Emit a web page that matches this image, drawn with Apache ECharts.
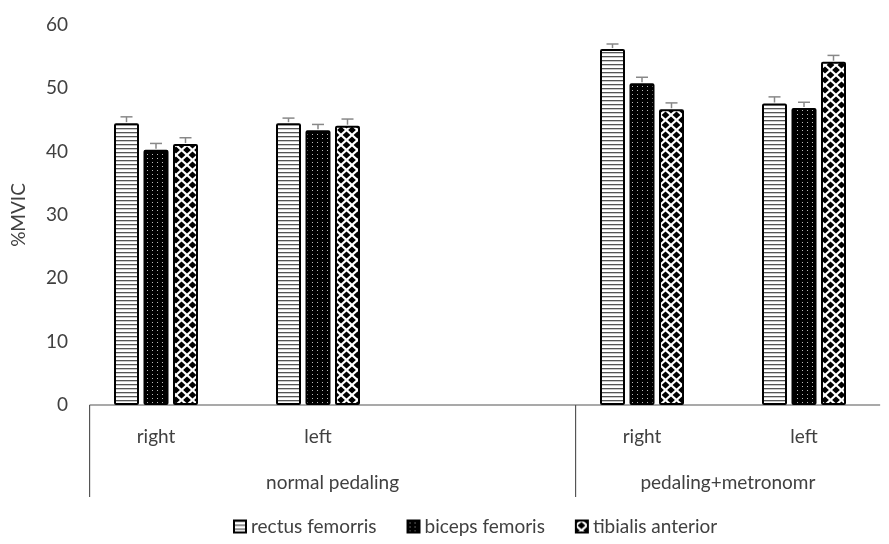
<!DOCTYPE html>
<html>
<head>
<meta charset="utf-8">
<script src="https://cdn.jsdelivr.net/npm/echarts@6/dist/echarts.min.js"></script>
<style>
  html, body { margin: 0; padding: 0; background: #fff; }
  #main { width: 889px; height: 544px; }
</style>
</head>
<body>
<div id="main"></div>
<script>
// 数据
const categories = ['right', 'left', '', 'right', 'left']
const groups = ['normal pedaling', 'pedaling+metronomr']
const seriesNames = ['rectus femorris', 'biceps femoris', 'tibialis anterior']
const rectus = [44.5, 44.5, null, 56.2, 47.6]
const biceps = [40.3, 43.4, null, 50.8, 46.9]
const tibialis = [41.2, 44.1, null, 46.7, 54.2]
const rectusErr = [1.0, 0.8, null, 0.8, 1.05]
const bicepsErr = [1.0, 0.9, null, 0.95, 0.9]
const tibialisErr = [1.0, 1.05, null, 1.0, 1.0]
const yTicks = [0, 10, 20, 30, 40, 50, 60]

const FONT = 'Lato, "Open Sans", sans-serif'
const TXT = '#404040'
const FS = 19
const BAR_W = 25
const BAR_GAP = 4.5

// 填充图案
function makeCanvas (w, h, draw) {
  const c = document.createElement('canvas')
  c.width = w
  c.height = h
  const ctx = c.getContext('2d')
  draw(ctx)
  return { image: c, repeat: 'repeat' }
}
const hLines = makeCanvas(8, 4, ctx => {
  ctx.fillStyle = '#fff'
  ctx.fillRect(0, 0, 8, 4)
  ctx.fillStyle = '#555'
  ctx.fillRect(0, 0, 8, 1.3)
})
const dots = makeCanvas(5, 4, ctx => {
  ctx.fillStyle = '#000'
  ctx.fillRect(0, 0, 5, 4)
  ctx.fillStyle = '#bbb'
  ctx.fillRect(2, 2, 1, 1)
})
const diamonds = makeCanvas(11, 10, ctx => {
  ctx.fillStyle = '#fff'
  ctx.fillRect(0, 0, 11, 10)
  ctx.fillStyle = '#000'
  const d = (x, y) => {
    ctx.beginPath()
    ctx.moveTo(x, y - 3.6)
    ctx.lineTo(x + 3.9, y)
    ctx.lineTo(x, y + 3.6)
    ctx.lineTo(x - 3.9, y)
    ctx.closePath()
    ctx.fill()
  }
  d(5.5, 5); d(0, 0); d(11, 0); d(0, 10); d(11, 10)
})
const fills = [hLines, dots, diamonds]
const values = [rectus, biceps, tibialis]
const errors = [rectusErr, bicepsErr, tibialisErr]

const series = []
values.forEach((v, i) => {
  series.push({
    name: seriesNames[i],
    type: 'bar',
    barWidth: BAR_W,
    barGap: (BAR_GAP / BAR_W * 100) + '%',
    itemStyle: {
      color: fills[i],
      borderColor: '#000',
      borderWidth: 2,
      borderRadius: 1
    },
    data: v
  })
})
// 误差线
errors.forEach((e, i) => {
  const data = []
  values[i].forEach((v, k) => {
    if (v != null) data.push([k, v, e[k]])
  })
  series.push({
    name: 'err' + i,
    type: 'custom',
    z: 3,
    silent: true,
    renderItem (params, api) {
      const x = api.value(0)
      const v = api.value(1)
      const err = api.value(2)
      const off = (i - 1) * (BAR_W + BAR_GAP)
      const p0 = api.coord([x, v])
      const p1 = api.coord([x, v + err])
      const cx = p0[0] + off
      const st = { stroke: '#888', lineWidth: 1.5 }
      return {
        type: 'group',
        children: [
          { type: 'line', shape: { x1: cx, y1: p0[1] - 1, x2: cx, y2: p1[1] }, style: st },
          { type: 'line', shape: { x1: cx - 6, y1: p1[1], x2: cx + 6, y2: p1[1] }, style: st }
        ]
      }
    },
    data
  })
})

const chart = echarts.init(document.getElementById('main'), null, { renderer: 'canvas' })
const option = {
  animation: false,
  textStyle: { fontFamily: FONT },
  grid: {
    left: 75,
    right: 4,
    top: 25,
    bottom: 139
  },
  legend: {
    data: seriesNames,
    left: 228,
    top: 512,
    icon: 'rect',
    itemWidth: 12,
    itemHeight: 12,
    itemGap: 30,
    textStyle: { color: TXT, fontSize: FS, fontFamily: FONT }
  },
  xAxis: {
    type: 'category',
    data: categories,
    axisLine: { show: false },
    axisTick: { show: false },
    axisLabel: {
      margin: 22,
      color: TXT,
      fontSize: FS,
      fontFamily: FONT,
      interval: 0
    }
  },
  yAxis: {
    type: 'value',
    min: yTicks[0],
    max: yTicks[yTicks.length - 1],
    interval: 10,
    name: '%MVIC',
    nameLocation: 'middle',
    nameRotate: 90,
    nameGap: 47,
    nameTextStyle: { color: TXT, fontSize: FS, fontFamily: FONT },
    splitLine: { show: false },
    axisLine: { show: false },
    axisTick: { show: false },
    axisLabel: {
      margin: 7,
      color: TXT,
      fontSize: FS,
      fontFamily: FONT
    }
  },
  series
}
chart.setOption(option, true)

// 多级分类轴（分隔线与分组标签）
const c0 = chart.convertToPixel({ xAxisIndex: 0 }, 0)
const c1 = chart.convertToPixel({ xAxisIndex: 0 }, 1)
const band = c1 - c0
const px = u => c0 + u * band
const y0 = chart.convertToPixel({ yAxisIndex: 0 }, 0)
const bounds = [-0.41, 2.59, 4.47]
const lineStyle = { stroke: '#555', lineWidth: 1.2 }
const graphic = [
  { type: 'line', shape: { x1: px(bounds[0]), y1: y0, x2: px(bounds[2]), y2: y0 }, style: lineStyle },
  { type: 'line', shape: { x1: px(bounds[0]), y1: y0, x2: px(bounds[0]), y2: y0 + 92 }, style: lineStyle },
  { type: 'line', shape: { x1: px(bounds[1]), y1: y0, x2: px(bounds[1]), y2: y0 + 92 }, style: lineStyle }
]
groups.forEach((g, i) => {
  graphic.push({
    type: 'text',
    x: (px(bounds[i]) + px(bounds[i + 1])) / 2,
    y: y0 + 78,
    style: {
      text: g,
      fill: TXT,
      font: FS + 'px ' + FONT,
      textAlign: 'center',
      textVerticalAlign: 'middle'
    }
  })
})
chart.setOption({ graphic })
</script>
</body>
</html>
